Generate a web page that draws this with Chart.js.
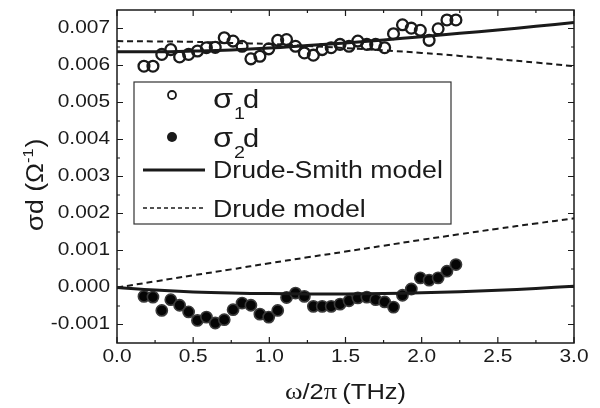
<!DOCTYPE html>
<html>
<head>
<meta charset="utf-8">
<script src="https://cdn.jsdelivr.net/npm/chart.js@4.4.0/dist/chart.umd.min.js"></script>
<style>
  html, body { margin: 0; padding: 0; background: #fff; }
</style>
</head>
<body>
<canvas id="chart" width="600" height="408"></canvas>
<script>
// ============================= data

const freq = [0.177, 0.236, 0.294, 0.353, 0.411, 0.470, 0.528, 0.587, 0.645, 0.704, 0.762, 0.821,
              0.879, 0.938, 0.996, 1.055, 1.113, 1.172, 1.230, 1.289, 1.347, 1.406, 1.464, 1.523,
              1.581, 1.640, 1.698, 1.757, 1.815, 1.874, 1.932, 1.991, 2.049, 2.108, 2.166, 2.225]

const sigma1 = [0.00598, 0.00598, 0.00630, 0.00643, 0.00623, 0.00630, 0.00639, 0.00648, 0.00649, 0.00675, 0.00666, 0.00652,
                0.00618, 0.00625, 0.00645, 0.00668, 0.00670, 0.00652, 0.00634, 0.00628, 0.00643, 0.00648, 0.00657, 0.00652,
                0.00666, 0.00657, 0.00657, 0.00648, 0.00686, 0.00710, 0.00701, 0.00695, 0.00668, 0.00699, 0.00723, 0.00723]

const sigma2 = [-0.00024, -0.00026, -0.00062, -0.00033, -0.00048, -0.00066, -0.00089, -0.00080, -0.00096, -0.00087, -0.00060, -0.00042,
                -0.00048, -0.00072, -0.00080, -0.00062, -0.00027, -0.00015, -0.00024, -0.00051, -0.00051, -0.00051, -0.00045, -0.00036,
                -0.00028, -0.00026, -0.00033, -0.00039, -0.00053, -0.00021, -0.00004, 0.00026, 0.00020, 0.00026, 0.00044, 0.00062]

const modelFreq = [0, 0.25, 0.5, 0.75, 1.0, 1.25, 1.5, 1.75, 2.0, 2.25, 2.5, 2.75, 3.0]
const drudeSmith1 = [0.00637, 0.00637, 0.00639, 0.00642, 0.00647, 0.00654, 0.00661, 0.00669, 0.00678, 0.00687, 0.00696, 0.00706, 0.00716]
const drudeSmith2 = [0, -0.00007, -0.00012, -0.00015, -0.000165, -0.000175, -0.000175, -0.000165, -0.000145, -0.000115, -0.000075, -0.000025, 0.000035]
const drude1 = [0.00666, 0.00665, 0.00664, 0.00661, 0.00658, 0.00653, 0.00647, 0.00641, 0.00634, 0.00626, 0.00617, 0.00608, 0.00598]
const drude2 = [0, 0.000165, 0.00033, 0.00049, 0.000655, 0.000815, 0.00097, 0.00113, 0.00129, 0.00144, 0.00159, 0.00173, 0.00187]

const xTicks = [0, 0.5, 1.0, 1.5, 2.0, 2.5, 3.0]
const xTickLabels = ['0.0', '0.5', '1.0', '1.5', '2.0', '2.5', '3.0']
const xMinor = [0.25, 0.75, 1.25, 1.75, 2.25, 2.75]
const yTicks = [-0.001, 0, 0.001, 0.002, 0.003, 0.004, 0.005, 0.006, 0.007]
const yTickLabels = ['-0.001', '0.000', '0.001', '0.002', '0.003', '0.004', '0.005', '0.006', '0.007']
const yMinor = [-0.0005, 0.0005, 0.0015, 0.0025, 0.0035, 0.0045, 0.0055, 0.0065]

// ============================= helpers

const INK = '#1a1a1a'
const SX = 1.16 // the text in the figure is drawn a little wide
const SANS = '"Liberation Sans", Arial, sans-serif'
const SERIF = '"Liberation Serif", "Times New Roman", serif'

const pts = (xs, ys) => xs.map((x, i) => ({ x: x, y: ys[i] }))

const drawRuns = (ctx, parts, x, y, align) => {
    // parts: [{t, font, dy, dx}] drawn one after the other on one baseline
    let w = 0
    parts.forEach(p => { ctx.font = p.font; w += ctx.measureText(p.t).width * SX + (p.dx || 0) })
    let cur = align === 'center' ? x - w / 2 : (align === 'right' ? x - w : x)
    parts.forEach(p => {
        cur += p.dx || 0
        ctx.save()
        ctx.font = p.font
        ctx.textAlign = 'left'
        ctx.textBaseline = 'alphabetic'
        ctx.translate(cur, y + (p.dy || 0))
        ctx.scale(SX, 1)
        ctx.fillText(p.t, 0, 0)
        ctx.restore()
        ctx.font = p.font
        cur += ctx.measureText(p.t).width * SX
    })
}

const drawText = (ctx, t, x, y, font, align, baseline) => {
    ctx.save()
    ctx.font = font
    ctx.textAlign = align
    ctx.textBaseline = baseline
    ctx.translate(x, y)
    ctx.scale(SX, 1)
    ctx.fillText(t, 0, 0)
    ctx.restore()
}

// ============================= frame, inward ticks, labels and legend

const framePlugin = {
    id: 'frame',
    afterDraw(chart) {
        const ctx = chart.ctx
        const a = chart.chartArea
        const xs = chart.scales.x
        const ys = chart.scales.y

        ctx.save()
        ctx.strokeStyle = INK
        ctx.fillStyle = INK

        // frame
        ctx.lineWidth = 1.5
        ctx.strokeRect(a.left, a.top, a.right - a.left, a.bottom - a.top)

        // ticks pointing in, on all four sides
        ctx.lineWidth = 1.2
        const tickX = (v, len) => {
            const px = xs.getPixelForValue(v)
            ctx.beginPath()
            ctx.moveTo(px, a.bottom); ctx.lineTo(px, a.bottom - len)
            ctx.moveTo(px, a.top); ctx.lineTo(px, a.top + len)
            ctx.stroke()
        }
        const tickY = (v, len) => {
            const py = ys.getPixelForValue(v)
            ctx.beginPath()
            ctx.moveTo(a.left, py); ctx.lineTo(a.left + len, py)
            ctx.moveTo(a.right, py); ctx.lineTo(a.right - len, py)
            ctx.stroke()
        }
        xTicks.forEach(v => tickX(v, 6))
        xMinor.forEach(v => tickX(v, 3))
        yTicks.forEach(v => tickY(v, 6))
        yMinor.forEach(v => tickY(v, 3))

        // tick labels
        const tickFont = '18px ' + SANS
        xTicks.forEach((v, i) => drawText(ctx, xTickLabels[i], xs.getPixelForValue(v), 357, tickFont, 'center', 'middle'))
        yTicks.forEach((v, i) => drawText(ctx, yTickLabels[i], 110, ys.getPixelForValue(v), tickFont, 'right', 'middle'))

        // x axis title
        drawRuns(ctx, [
            { t: 'ω', font: '23px ' + SERIF },
            { t: '/2', font: '22px ' + SANS },
            { t: 'π', font: '23px ' + SERIF },
            { t: ' (THz)', font: '22px ' + SANS, dx: -2 }
        ], (a.left + a.right) / 2, 399, 'center')

        // y axis title, rotated
        ctx.save()
        ctx.translate(43, 185)
        ctx.rotate(-Math.PI / 2)
        drawRuns(ctx, [
            { t: 'σ', font: '24px ' + SANS },
            { t: 'd (', font: '23px ' + SANS },
            { t: 'Ω', font: '23px ' + SANS },
            { t: '-1', font: '14px ' + SANS, dy: -10 },
            { t: ')', font: '23px ' + SANS, dx: 1 }
        ], 0, 0, 'center')
        ctx.restore()

        // legend box
        ctx.fillStyle = '#fff'
        ctx.fillRect(134, 82, 317, 142)
        ctx.lineWidth = 1.2
        ctx.strokeStyle = '#333'
        ctx.strokeRect(134, 82, 317, 142)
        ctx.fillStyle = INK
        ctx.strokeStyle = INK

        ctx.lineWidth = 1.8
        ctx.beginPath(); ctx.arc(172, 95, 4, 0, Math.PI * 2); ctx.stroke()
        drawRuns(ctx, [
            { t: 'σ', font: '28px ' + SANS },
            { t: '1', font: '17px ' + SANS, dy: 11, dx: 1 },
            { t: 'd', font: '25px ' + SANS, dx: -2 }
        ], 213, 108, 'left')

        ctx.beginPath(); ctx.arc(172, 137, 5, 0, Math.PI * 2); ctx.fill()
        drawRuns(ctx, [
            { t: 'σ', font: '28px ' + SANS },
            { t: '2', font: '17px ' + SANS, dy: 11, dx: 1 },
            { t: 'd', font: '25px ' + SANS, dx: -2 }
        ], 213, 147, 'left')

        ctx.lineWidth = 3
        ctx.beginPath(); ctx.moveTo(143, 170); ctx.lineTo(205, 170); ctx.stroke()
        drawText(ctx, 'Drude-Smith model', 213, 178, '23px ' + SANS, 'left', 'alphabetic')

        ctx.lineWidth = 1.5
        ctx.setLineDash([4, 3])
        ctx.beginPath(); ctx.moveTo(143, 208); ctx.lineTo(205, 208); ctx.stroke()
        ctx.setLineDash([])
        drawText(ctx, 'Drude model', 213, 217, '23px ' + SANS, 'left', 'alphabetic')

        ctx.restore()
    }
}

// ============================= chart

const lineSet = (xs, ys, dashed) => ({
    data: pts(xs, ys),
    showLine: true,
    pointRadius: 0,
    borderColor: INK,
    borderWidth: dashed ? 2 : 3,
    borderDash: dashed ? [6, 4] : [],
    tension: 0.4,
    fill: false
})

new Chart(document.getElementById('chart'), {
    type: 'scatter',
    data: {
        datasets: [
            lineSet(modelFreq, drude1, true),
            lineSet(modelFreq, drude2, true),
            lineSet(modelFreq, drudeSmith1, false),
            lineSet(modelFreq, drudeSmith2, false),
            {
                data: pts(freq, sigma1),
                pointRadius: 5.4,
                pointBorderWidth: 2.3,
                pointBorderColor: INK,
                pointBackgroundColor: 'rgba(255,255,255,0)'
            },
            {
                data: pts(freq, sigma2),
                pointRadius: 5.6,
                pointBorderWidth: 1.6,
                pointBorderColor: '#3a3a3a',
                pointBackgroundColor: '#050505'
            }
        ]
    },
    options: {
        responsive: false,
        animation: false,
        devicePixelRatio: 1,
        layout: { padding: { left: 0, top: 10, right: 26, bottom: 0 } },
        plugins: { legend: { display: false }, tooltip: { enabled: false } },
        scales: {
            x: {
                type: 'linear', min: 0, max: 3,
                ticks: { display: false },
                grid: { display: false },
                border: { display: false },
                afterFit: (s) => { s.height = 65 }
            },
            y: {
                type: 'linear', min: -0.0015, max: 0.0075,
                ticks: { display: false },
                grid: { display: false },
                border: { display: false },
                afterFit: (s) => { s.width = 117 }
            }
        }
    },
    plugins: [framePlugin]
})
</script>
</body>
</html>
